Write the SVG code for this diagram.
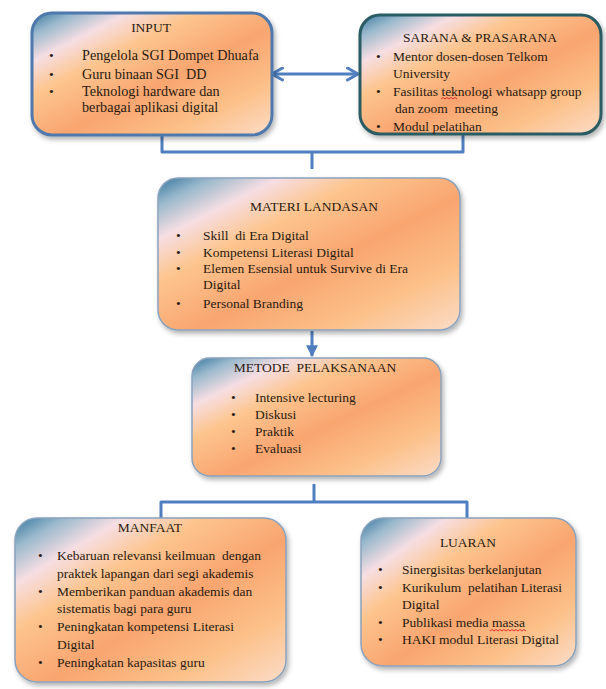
<svg xmlns="http://www.w3.org/2000/svg" width="606" height="689" viewBox="0 0 606 689">
<defs>
<linearGradient id="sunset" x1="0" y1="0" x2="1" y2="1">
<stop offset="0" stop-color="#36769f"/>
<stop offset="0.09" stop-color="#9ab9cc"/>
<stop offset="0.2" stop-color="#f6dee3"/>
<stop offset="0.34" stop-color="#fdc58f"/>
<stop offset="0.56" stop-color="#f9a570"/>
<stop offset="0.78" stop-color="#fcc088"/>
<stop offset="1" stop-color="#fbdcc8"/>
</linearGradient>
<filter id="shadow" x="-10%" y="-10%" width="125%" height="130%">
<feDropShadow dx="2" dy="3" stdDeviation="2.5" flood-color="#000" flood-opacity="0.3"/>
</filter>
<marker id="chev" viewBox="0 0 10 10" refX="8" refY="5" markerWidth="5" markerHeight="5" orient="auto-start-reverse" markerUnits="strokeWidth">
<path d="M1,1 L8,5 L1,9" fill="none" stroke="#4f7fc0" stroke-width="2" stroke-linecap="round" stroke-linejoin="round"/>
</marker>
<marker id="tri" viewBox="0 0 10 10" refX="9" refY="5" markerWidth="4" markerHeight="4" orient="auto" markerUnits="strokeWidth">
<path d="M0,0 L10,5 L0,10 z" fill="#4f7fc0"/>
</marker>
</defs>
<style>
.box{fill:url(#sunset);filter:url(#shadow)}
.thin{stroke:#8aa3bd;stroke-width:1.5}
.blue{stroke:#4f78ad;stroke-width:3}
.teal{stroke:#2b5b64;stroke-width:3}
text{font-family:"Liberation Serif","Times New Roman",serif;font-size:13.5px;fill:#2a1a10;white-space:pre}
.big{font-size:14.2px}
.t{text-anchor:middle}
.con{fill:none;stroke:#4f7fc0;stroke-width:3;stroke-linejoin:round}
.sq{fill:none;stroke:#e03030;stroke-width:1}
</style>

<g id="connectors">
<path class="con" d="M272,74 L358,74" marker-start="url(#chev)" marker-end="url(#chev)"/>
<path class="con" d="M162,135 L162,152 L463,152 L463,134"/>
<path class="con" d="M312,152 L312,169"/>
<path class="con" d="M312,331 L312,356" marker-end="url(#tri)"/>
<path class="con" d="M314,484 L314,502"/>
<path class="con" d="M161,519 L161,502 L467,502 L467,519"/>
</g>

<g id="input">
<rect class="box blue" x="32" y="13" width="240" height="122" rx="20"/>
<text class="t" x="151" y="32">INPUT</text>
<text x="49" y="60">•</text><text class="big" x="82" y="60">Pengelola SGI Dompet Dhuafa</text>
<text x="49" y="79">•</text><text class="big" x="82" y="79">Guru binaan SGI  DD</text>
<text x="49" y="96">•</text><text class="big" x="82" y="96">Teknologi hardware dan</text>
<text class="big" x="82" y="112">berbagai aplikasi digital</text>
</g>

<g id="sarana">
<rect class="box teal" x="360" y="15" width="241" height="119" rx="20"/>
<text class="t" x="480" y="42">SARANA &amp; PRASARANA</text>
<text x="376" y="61">•</text><text x="393" y="61">Mentor dosen-dosen Telkom</text>
<text x="393" y="78">University</text>
<text x="376" y="96">•</text><text x="393" y="96">Fasilitas teknologi whatsapp group</text>
<path class="sq" d="M441,99 l2,-1.5 l2,1.5 l2,-1.5 l2,1.5 l2,-1.5 l2,1.5 l2,-1.5 l2,1.5"/>
<text x="395" y="113">dan zoom  meeting</text>
<text x="376" y="131">•</text><text x="393" y="131">Modul pelatihan</text>
</g>

<g id="materi">
<rect class="box thin" x="158" y="178" width="302" height="152" rx="20"/>
<text class="t" x="314" y="211">MATERI LANDASAN</text>
<text x="176" y="240">•</text><text x="203" y="240">Skill  di Era Digital</text>
<text x="176" y="257">•</text><text x="203" y="257">Kompetensi Literasi Digital</text>
<text x="176" y="273">•</text><text x="203" y="273">Elemen Esensial untuk Survive di Era</text>
<text x="203" y="289">Digital</text>
<text x="176" y="308">•</text><text x="203" y="308">Personal Branding</text>
</g>

<g id="metode">
<rect class="box thin" x="192" y="358" width="249" height="118" rx="18"/>
<text class="t" x="315" y="372">METODE  PELAKSANAAN</text>
<text x="231" y="402">•</text><text x="255" y="402">Intensive lecturing</text>
<text x="231" y="419">•</text><text x="255" y="419">Diskusi</text>
<text x="231" y="436">•</text><text x="255" y="436">Praktik</text>
<text x="231" y="453">•</text><text x="255" y="453">Evaluasi</text>
</g>

<g id="manfaat">
<rect class="box thin" x="15" y="518" width="271" height="164" rx="22"/>
<text class="t" x="150" y="532">MANFAAT</text>
<text x="38" y="560">•</text><text x="57" y="560">Kebaruan relevansi keilmuan  dengan</text>
<text x="57" y="578">praktek lapangan dari segi akademis</text>
<text x="38" y="596">•</text><text x="57" y="596">Memberikan panduan akademis dan</text>
<text x="57" y="613">sistematis bagi para guru</text>
<text x="38" y="631">•</text><text x="57" y="631">Peningkatan kompetensi Literasi</text>
<text x="57" y="649">Digital</text>
<text x="38" y="667">•</text><text x="57" y="667">Peningkatan kapasitas guru</text>
</g>

<g id="luaran">
<rect class="box thin" x="361" y="518" width="215" height="148" rx="22"/>
<text class="t" x="468" y="547">LUARAN</text>
<text x="378" y="574">•</text><text x="402" y="574">Sinergisitas berkelanjutan</text>
<text x="378" y="592">•</text><text x="402" y="592">Kurikulum  pelatihan Literasi</text>
<text x="402" y="609">Digital</text>
<text x="378" y="627">•</text><text x="402" y="627">Publikasi media massa</text>
<path class="sq" d="M490,631 l2,-1.5 l2,1.5 l2,-1.5 l2,1.5 l2,-1.5 l2,1.5 l2,-1.5 l2,1.5 l2,-1.5 l2,1.5 l2,-1.5 l2,1.5 l2,-1.5 l2,1.5 l2,-1.5 l2,1.5 l2,-1.5 l2,1.5"/>
<text x="378" y="644">•</text><text x="402" y="644">HAKI modul Literasi Digital</text>
</g>
</svg>
